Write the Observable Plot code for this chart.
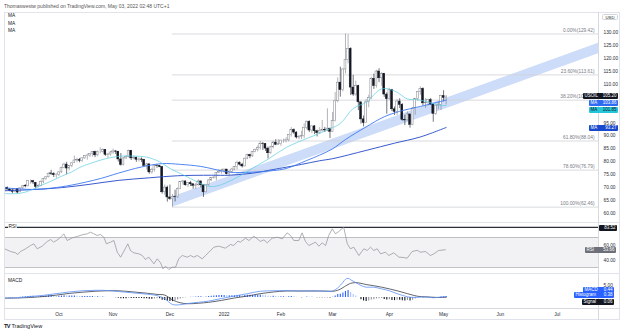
<!DOCTYPE html>
<html><head><meta charset="utf-8">
<script src="https://cdn.jsdelivr.net/npm/d3@7"></script>
<script src="https://cdn.jsdelivr.net/npm/@observablehq/plot@0.6"></script>
<style>
html,body{margin:0;padding:0;background:#fff;}
#root{position:relative;width:624px;height:334px;overflow:hidden;font-family:"Liberation Sans",Arial,sans-serif;color:#131722;}
.pane{position:absolute;left:0;}
.pane svg{overflow:visible;display:block;}
.t{position:absolute;white-space:nowrap;line-height:1;}
.box{position:absolute;height:6px;font-size:4.5px;line-height:6px;display:flex;justify-content:space-between;padding:0 1.6px;box-sizing:border-box;border-radius:1px;white-space:nowrap;}
.hl{position:absolute;height:1px;background:#e0e3eb;}
.vl{position:absolute;width:1px;background:#e0e3eb;}
</style></head>
<body><div id="root"></div>
<script>
// ---------------- DATA ----------------
// daily candles, bar index 1 = 2 Sep 2021 ... 172 = 2 May 2022
const open = [68.6,69.9,69.3,68.9,68.3,69.4,68.2,69.8,70.6,70.5,72.6,72.5,71.8,70.4,70.7,72.3,73.3,74.0,75.5,75.3,74.8,
75.0,75.9,77.6,78.9,77.4,78.4,79.5,80.5,80.6,80.4,81.3,82.2,82.4,83.0,83.8,82.5,83.8,83.8,84.6,82.7,82.8,
83.6,84.0,83.9,80.9,78.8,81.3,81.9,84.2,81.3,81.6,80.8,80.9,80.8,78.4,79.0,75.9,76.8,78.5,78.4,78.0,68.2,70.0,
66.2,65.6,66.5,66.3,69.5,72.1,72.4,70.9,71.7,71.3,70.7,70.9,72.4,70.9,68.2,71.1,72.8,73.8,73.9,75.6,76.0,76.6,77.0,
75.2,76.1,77.0,77.9,79.5,78.9,78.2,81.2,82.6,82.1,83.8,84.6,85.4,87.0,86.9,85.1,83.3,85.6,87.4,86.6,86.8,
88.2,88.2,88.3,90.3,92.3,91.3,89.4,89.7,89.9,93.1,95.5,92.1,93.7,91.8,91.1,92.0,92.4,92.1,92.8,91.6,
95.7,103.4,110.6,107.7,115.7,119.4,123.7,108.7,106.0,109.3,103.0,96.4,95.0,103.0,104.7,112.1,109.3,114.9,112.3,113.9,106.0,104.2,107.8,
100.3,99.3,103.3,102.0,96.2,96.0,98.3,94.3,100.6,104.3,107.0,108.2,102.6,102.8,103.8,102.1,98.5,101.7,102.0,105.4,
104.7];
const high = [70.1,70.3,69.5,69.4,69.6,69.6,70.0,70.8,71.2,72.8,73.0,72.8,72.0,71.3,72.6,73.6,74.2,75.6,76.7,75.8,75.4,
76.0,77.9,79.5,79.8,78.5,79.6,82.2,81.4,81.3,81.6,82.3,83.0,83.1,83.9,84.1,84.2,85.4,85.0,84.7,83.2,84.0,
84.9,84.4,84.0,83.2,81.6,82.4,84.5,84.4,82.2,81.8,81.5,81.5,80.9,79.4,79.2,77.5,78.9,78.9,78.6,78.2,71.0,70.6,
71.0,67.4,69.0,69.9,72.4,72.8,72.6,72.0,72.4,71.5,71.6,73.1,72.5,71.0,71.3,72.9,73.9,74.2,75.8,76.9,77.1,77.1,77.0,
76.5,77.5,78.2,80.2,80.0,79.4,81.4,82.9,82.9,84.0,84.9,86.1,87.9,87.4,86.9,85.7,86.0,88.0,88.6,88.6,88.4,
88.8,89.3,90.4,93.2,92.7,91.6,90.2,91.8,94.7,95.8,95.8,93.7,94.0,92.2,93.2,96.0,93.3,100.5,93.0,99.1,
106.8,112.5,116.6,116.0,129.4,129.1,124.1,113.4,111.2,109.6,103.0,97.7,104.1,105.7,112.7,113.9,115.4,116.0,114.5,114.2,106.7,108.4,108.0,
101.2,104.1,104.4,102.5,98.0,99.3,98.4,101.0,104.3,107.2,109.0,108.6,104.5,104.2,104.5,102.1,101.9,103.2,105.7,107.5,
105.6];
const low = [68.3,68.9,68.4,67.6,68.0,67.6,68.0,69.3,69.9,70.3,71.3,71.2,69.5,69.9,70.4,71.5,72.8,73.8,74.7,73.9,73.6,
74.3,75.5,77.3,75.0,76.5,77.7,79.3,79.6,79.6,79.8,81.0,80.6,81.7,81.8,81.6,82.0,83.1,83.4,82.1,81.3,82.2,
82.9,82.8,79.9,78.3,78.4,80.9,81.5,80.5,80.8,79.8,79.9,79.7,78.1,76.8,75.2,75.2,76.0,77.5,77.7,67.5,67.0,64.4,
65.1,62.4,64.5,65.8,69.2,71.0,70.6,70.0,70.4,69.4,69.3,70.5,69.9,66.2,68.0,70.5,72.3,73.3,72.6,75.4,75.2,75.5,74.9,
74.3,75.4,76.5,76.8,78.4,77.6,78.0,80.8,81.2,81.7,83.5,83.8,84.5,84.4,84.0,81.1,82.9,85.0,86.2,86.4,86.0,
87.2,87.3,87.7,89.6,90.5,88.8,88.5,88.6,88.9,92.4,91.3,90.9,90.5,89.6,90.6,91.5,91.3,91.6,89.0,91.5,
95.4,102.8,105.0,107.0,114.0,117.9,105.6,105.3,105.4,99.8,94.6,93.5,95.0,100.9,104.0,108.0,108.5,110.6,109.2,104.9,98.4,103.8,99.4,
97.9,97.9,100.6,95.7,94.0,95.8,93.0,94.0,98.0,103.4,105.7,101.6,100.6,101.5,101.9,95.3,97.9,100.1,99.8,103.2,
102.0];
const close = [70.0,69.3,68.8,68.4,69.3,68.1,69.7,70.5,70.5,72.6,72.6,72.0,70.3,70.6,72.2,73.3,74.0,75.4,75.3,74.8,75.0,
75.9,77.6,78.9,77.4,78.3,79.4,80.5,80.6,80.4,81.3,82.2,82.4,83.0,83.8,82.5,83.8,83.8,84.6,82.7,82.8,83.6,
84.0,83.9,80.9,78.8,81.3,81.9,84.2,81.3,81.6,80.8,80.9,80.8,78.4,79.0,75.9,76.8,78.5,78.4,78.0,68.2,70.0,66.2,
65.6,66.5,66.3,69.5,72.1,72.4,70.9,71.7,71.3,70.7,70.9,72.4,70.9,68.2,71.1,72.8,73.8,73.9,75.6,76.0,76.6,77.0,75.2,
76.1,77.0,77.9,79.5,78.9,78.2,81.2,82.6,82.1,83.8,84.6,85.4,87.0,86.9,85.1,83.3,85.6,87.4,86.6,86.8,88.2,
88.2,88.3,90.3,92.3,91.3,89.4,89.7,89.9,93.1,95.5,92.1,93.7,91.8,91.1,92.0,92.4,92.1,92.8,91.6,95.7,
103.4,110.6,107.7,115.7,119.4,123.7,108.7,106.0,109.3,103.0,96.4,95.0,103.0,104.7,112.1,109.3,114.9,112.3,113.9,106.0,104.2,107.8,100.3,
99.3,103.3,102.0,96.2,96.0,98.3,94.3,100.6,104.3,107.0,108.2,102.6,102.8,103.8,102.1,98.5,101.7,102.0,105.4,104.7,
105.2];

// moving averages (bar index, value)
const ma20X = [1,7,11,15,19,23,27,30,34,38,42,46,51,56,61,65,69,73,77,80,83,87,92,97,103,110,118,123,127,131,136,141,147,152,157,161,166,170,172];
const ma20V = [67.7,67.8,69.0,70.8,72.5,74.4,76.1,77.8,79.3,80.6,81.6,82.2,82.2,81.8,80.0,77.4,75.5,73.5,71.6,70.5,70.6,72.0,74.5,77.5,81.0,85.5,89.0,91.0,92.8,94.8,100.6,103.0,108.2,107.4,104.3,104.0,102.9,101.7,101.85];
const ma50X = [1,7,12,19,27,38,45,54,62,69,77,88,97,105,110,118,123,128,133,141,148,154,162,172];
const ma50V = [69.9,69.5,69.3,69.8,71.0,73.5,75.6,78.0,79.3,79.0,78.2,76.0,76.0,76.6,77.4,80.5,82.6,85.0,88.6,93.5,97.4,99.5,101.4,103.86];
const ma100X = [1,11,23,34,45,57,68,81,88,97,105,110,116,123,128,141,152,162,172];
const ma100V = [68.8,69.2,70.0,71.3,72.8,73.8,74.6,74.8,74.8,75.6,77.0,77.9,79.0,80.4,81.2,84.4,87.2,89.6,93.27];

// parallel channel from the December low
const channelX = [66, 231];
const channelLo = [62.4, 121.8];
const channelHi = [66.4, 125.8];

// Fibonacci retracement 62.46 -> 129.42
const fibStart = 66;
const fibLevels = [129.42, 113.61, 103.84, 88.04, 76.79, 62.46];
const fibPct = ["0.00%", "23.60%", "38.20%", "61.80%", "78.60%", "100.00%"];

// RSI
const rsiX = [1,3.3,5.2,6.1,7.1,9.1,11,12.3,13.6,15.5,17.5,18.8,20,22,23.3,23.9,25.2,27.2,29.1,31,33,34.2,35.5,36.8,38.1,39.4,40.4,42,43.3,44.6,45.9,47.1,48.7,49.7,51,53,54.3,55.5,56.8,58.8,60.1,61.4,62.3,63.3,64.6,65.9,67.2,68.4,69.8,71.7,73,74.2,75.6,77.5,78.8,80.1,82,83.9,85.2,86.5,88.5,89.7,91.3,92.3,94.3,95.6,97.5,98.8,100.1,101.4,102.7,104.6,106.6,108.5,110.4,111.7,113,114.9,116.2,117.5,118.8,120.1,121.4,122.7,124,125.3,126.5,127.9,129.1,130.4,132.3,133.7,134.9,136.2,138.2,140.1,141.4,142.7,144,145.3,146.6,148.5,149.8,151.7,153.7,155.6,156.9,158.8,160.8,162,164,165.9,167.2,169.1,171.7];
const rsiV = [54.9,51.3,49.6,47.3,51.3,54.9,59.3,61.6,54.9,58.4,64.7,67.3,63.8,68.2,72.7,74.9,66,69.6,71.3,73.6,74.9,77.1,74.9,72.7,74,70.4,61.6,63.8,66,50.4,43.8,51.3,61.6,52.7,49.6,48.2,46,40.7,43.8,34.9,41.6,36.2,28.2,31.8,27.3,30.4,30.4,41.6,46,43.8,46,43.8,46,41.6,46,50.4,57.1,58.4,57.1,55.8,60.7,59.3,65.1,63.8,69.1,66,71.8,68.2,64.7,66.9,62.9,69.1,70.4,68.2,76.2,72.7,66,66,76.2,64.7,59.3,61.6,63.8,58.4,62.9,59.3,72.7,81.6,74.9,78,83.8,61.6,54.9,57.1,46,54.9,52.7,57.1,52.7,54.9,48.2,50.4,46,49.6,43.8,43.3,42.4,51.3,52.9,50.4,51.3,46,48.2,52.7,53.66];
const rsiBand = [30, 70];
const rsiMax = 83.52;
const rsiTicks = [40, 60];

// MACD
const macdX = [1,6,11,16,21,26,31,36,41,45,50,55,60,63,66,69,72,76,80,85,90,95,100,105,110,115,120,125,128,130,132,133,134,135,137,139,141,144,147,150,153,156,158,161,164,167,170,172];
const macdV = [-0.2,-0.1,0.4,0.9,1.6,2.3,2.8,3.0,2.9,2.5,2.0,1.5,0.8,-0.5,-2.9,-3.0,-2.5,-2.0,-1.5,-0.4,0.6,1.6,2.6,2.8,2.9,2.7,2.8,2.6,2.7,4.0,6.3,7.6,8.0,7.4,6.2,5.0,4.3,4.3,3.6,2.8,1.6,0.6,0.1,0.1,0.2,-0.1,0.2,0.44];
const signalV = [-0.3,-0.2,0.0,0.4,1.0,1.7,2.2,2.6,2.8,2.8,2.4,1.9,1.3,1.0,-1.0,-2.2,-2.6,-2.4,-2.0,-1.2,-0.2,0.6,1.6,2.3,2.7,2.7,2.7,2.7,2.6,3.0,4.1,4.8,5.4,5.9,6.2,5.9,5.4,4.9,4.3,3.6,2.8,1.9,1.3,0.5,0.3,0.1,0.0,0.06];
const histV = [0.1,0.0,-0.1,-0.1,0.0,0.0,0.1,0.2,0.3,0.4,0.5,0.5,0.4,0.3,0.4,0.5,0.6,0.7,0.7,0.6,0.5,
0.5,0.6,0.7,0.6,0.6,0.6,0.6,0.5,0.4,0.4,0.4,0.4,0.4,0.4,0.3,0.3,0.2,0.2,0.1,0.0,0.0,
0.0,-0.1,-0.3,-0.5,-0.5,-0.5,-0.3,-0.4,-0.4,-0.4,-0.4,-0.4,-0.5,-0.5,-0.7,-0.7,-0.6,-0.5,-0.5,-1.1,-1.3,-1.6,
-1.7,-1.7,-1.4,-1.0,-0.6,-0.3,-0.1,0.0,0.1,0.1,0.2,0.3,0.3,0.1,0.2,0.4,0.5,0.6,0.7,0.8,0.8,0.8,0.7,
0.7,0.7,0.7,0.8,0.8,0.7,0.8,0.9,0.9,0.9,0.9,0.9,1.0,0.9,0.7,0.5,0.4,0.5,0.4,0.3,0.3,
0.3,0.2,0.3,0.4,0.3,0.1,0.0,-0.1,0.0,0.2,0.1,0.1,0.0,-0.1,-0.1,-0.1,-0.1,-0.1,-0.2,0.1,
0.6,1.2,1.4,1.9,2.5,2.9,2.1,1.2,0.6,0.0,-0.9,-1.5,-1.7,-1.5,-1.0,-0.9,-0.6,-0.5,-0.4,-0.8,-1.0,-0.9,-1.2,
-1.3,-1.1,-1.1,-1.4,-1.5,-1.3,-1.5,-1.1,-0.6,-0.2,0.1,-0.1,-0.1,0.0,0.0,-0.3,-0.2,-0.1,0.2,0.3,
0.38];
const macdTicks = [5];

// axes
const priceTicks = [60,65,70,75,80,85,90,95,100,105,110,115,120,125,130];
const monthTickIdx = [22,43,65,86,108,128,150,171,193,215];
const monthTickLabels = ["Oct","Nov","Dec","2022","Feb","Mar","Apr","May","Jun","Jul"];

// last values shown on the price scale
const priceLabelNames = ["USOIL", "MA", "MA", "MA"];
const priceLabelValues = [105.20, 103.86, 101.85, 93.27];

// ---------------- BUILD ----------------
const root = document.getElementById("root");
const FONT = "Liberation Sans, Arial, sans-serif";
const xDomain = [0.93, 231];
const baseStyle = {background: "transparent", fontSize: "4.8px", fontFamily: FONT, color: "#2a2e39", overflow: "visible"};
const PRICE_TOP = 12, RSI_TOP = 222, MACD_TOP = 273;
const yPriceDomain = [60, 130], yPriceRange = [201, 20];

const candles = close.map((c, k) => ({i: k + 1, o: open[k], h: high[k], l: low[k], c, up: c >= open[k]}));
const pts = (xs, vs) => xs.map((x, k) => ({i: x, v: vs[k]})).filter(d => d.v != null);
const channel = channelX.map((x, k) => ({i: x, lo: channelLo[k], hi: channelHi[k]}));
const fib = fibLevels.map((v, k) => ({v, label: `${fibPct[k]}(${v.toFixed(2)})`}));
const UP = "#80838c", DN = "#131722";

// price-scale label placement (stacked like TradingView), then hide ticks under them
const yPrice = d3.scaleLinear(yPriceDomain, yPriceRange);
const pl = priceLabelValues.map((v, k) => ({
  name: priceLabelNames[k], v, y: PRICE_TOP + yPrice(v),
  left: k === 0 ? 583 : 589,
  bg: ["#131722", "#2f6bf2", "#26c6da", "#1848cc"][k],
  fg: k === 2 ? "#131722" : "#ffffff"
})).sort((a, b) => a.y - b.y);
for (let k = 1; k < pl.length; k++) pl[k].y = Math.max(pl[k].y, pl[k - 1].y + 7);
pl.forEach(d => { if (d.v === 93.27) d.y += 0.8; });
const visiblePriceTicks = priceTicks.filter(t => pl.every(d => Math.abs(PRICE_TOP + yPrice(t) - d.y) > 4));

function addPane(top, plot) {
  const d = document.createElement("div");
  d.className = "pane"; d.style.top = top + "px";
  d.appendChild(plot); root.appendChild(d);
  return plot;
}

const pricePlot = addPane(PRICE_TOP, Plot.plot({
  width: 624, height: 210, marginLeft: 4, marginRight: 26, marginTop: 0, marginBottom: 0,
  style: baseStyle,
  x: {domain: xDomain, axis: null},
  y: {domain: yPriceDomain, range: yPriceRange, axis: "right", ticks: visiblePriceTicks, tickFormat: d => d.toFixed(2), tickSize: 0, tickPadding: 5, label: null},
  marks: [
    Plot.areaY(channel, {x: "i", y1: "lo", y2: "hi", fill: "#cddcf8"}),
    Plot.ruleY(fib, {y: "v", x1: fibStart, x2: xDomain[1], stroke: "#cfd1d6", strokeWidth: 0.8}),
    Plot.text(fib, {y: "v", text: "label", frameAnchor: "right", dx: -4, dy: -3.2, textAnchor: "end", fill: "#787b86", fontSize: 4.8}),
    Plot.ruleX(candles, {x: "i", y1: "l", y2: "h", stroke: d => d.up ? UP : DN, strokeWidth: 0.6, clip: true}),
    Plot.rect(candles, {x1: d => d.i - 0.36, x2: d => d.i + 0.36, y1: d => Math.min(d.o, d.c), y2: d => Math.max(d.o, d.c),
      fill: d => d.up ? "#ffffff" : DN, stroke: d => d.up ? UP : DN, strokeWidth: 0.5, clip: true}),
    Plot.line(pts(ma100X, ma100V), {x: "i", y: "v", stroke: "#2347c7", strokeWidth: 0.9, curve: "catmull-rom", clip: true}),
    Plot.line(pts(ma50X, ma50V), {x: "i", y: "v", stroke: "#3d78f2", strokeWidth: 0.9, curve: "catmull-rom", clip: true}),
    Plot.line(pts(ma20X, ma20V), {x: "i", y: "v", stroke: "#5ccde2", strokeWidth: 0.7, curve: "catmull-rom", clip: true})
  ]
}));

const rsiPlot = addPane(RSI_TOP, Plot.plot({
  width: 624, height: 51, marginLeft: 4, marginRight: 26, marginTop: 0, marginBottom: 0,
  style: baseStyle,
  x: {domain: xDomain, axis: null},
  y: {domain: [30, 70], range: [45, 15], axis: "right", ticks: rsiTicks, tickFormat: d => d.toFixed(2), tickSize: 0, tickPadding: 5, label: null},
  marks: [
    Plot.rect([rsiBand], {x1: xDomain[0], x2: xDomain[1], y1: d => d[0], y2: d => d[1], fill: "#f2f2f4"}),
    Plot.ruleY(rsiBand, {stroke: "#aeb1b8", strokeWidth: 0.8}),
    Plot.ruleY([rsiMax], {stroke: "#2a2e39", strokeWidth: 1.3}),
    Plot.line(pts(rsiX, rsiV), {x: "i", y: "v", stroke: "#8c8f98", strokeWidth: 0.7, clip: true})
  ]
}));

const histRows = histV.map((v, k) => {
  const prev = k > 0 ? histV[k - 1] : v;
  const color = v >= 0 ? (v >= prev ? "#2962ff" : "#a7c1fb") : (v <= prev ? "#131722" : "#8f929a");
  return {i: k + 1, v, color};
});
const macdRows = macdX.map((x, k) => ({i: x, macd: macdV[k], signal: signalV[k]}));
const monthMap = new Map(monthTickIdx.map((d, k) => [d, monthTickLabels[k]]));

const macdPlot = addPane(MACD_TOP, Plot.plot({
  width: 624, height: 47, marginLeft: 4, marginRight: 26, marginTop: 0, marginBottom: 12,
  style: baseStyle,
  x: {domain: xDomain, ticks: monthTickIdx, tickFormat: d => monthMap.get(d), tickSize: 0, tickPadding: 4, label: null},
  y: {domain: [-5, 5], range: [36, 12], axis: "right", ticks: macdTicks, tickFormat: d => d.toFixed(2), tickSize: 0, tickPadding: 5, label: null},
  color: {type: "identity"},
  marks: [
    Plot.ruleX(histRows, {x: "i", y1: 0, y2: "v", stroke: "color", strokeWidth: 1.1}),
    Plot.line(macdRows, {x: "i", y: "signal", stroke: "#3b3e47", strokeWidth: 0.8, curve: "catmull-rom"}),
    Plot.line(macdRows, {x: "i", y: "macd", stroke: "#5b8ff7", strokeWidth: 0.8, curve: "catmull-rom"})
  ]
}));

// ---------------- FRAME / DECOR ----------------
function el(cls, css, html) {
  const d = document.createElement("div");
  d.className = cls; Object.assign(d.style, css);
  if (html != null) d.innerHTML = html;
  root.appendChild(d); return d;
}
el("hl", {left: "4px", top: "12px", width: "616px"});
el("hl", {left: "4px", top: "319px", width: "616px"});
el("vl", {left: "4px", top: "12px", height: "308px"});
el("vl", {left: "619px", top: "12px", height: "308px"});
el("vl", {left: "598px", top: "12px", height: "308px", background: "#d6d9e0"});
el("hl", {left: "4px", top: "222px", width: "616px"});
el("hl", {left: "4px", top: "273px", width: "616px"});
el("hl", {left: "4px", top: "308px", width: "616px", background: "#d6d9e0"});

el("t", {left: "4px", top: "4.2px", fontSize: "5px", color: "#555"}, "Thomaswestw published on TradingView.com, May 03, 2022 02:48 UTC+1");
["MA", "MA", "MA"].forEach((s, k) => el("t", {left: "8px", top: (14.3 + k * 7.3) + "px", fontSize: "4.8px", color: "#131722"}, s));
el("t", {left: "8px", top: "224.6px", fontSize: "4.8px", color: "#131722", background: "#fff", padding: "0 0.5px"}, "RSI");
el("t", {left: "8px", top: "278.6px", fontSize: "4.8px", color: "#131722"}, "MACD");
el("t", {left: "602px", top: "14px", width: "16px", height: "6px", fontSize: "4.3px", lineHeight: "6px", textAlign: "center", border: "0.6px solid #d1d4dc", borderRadius: "1.5px", boxSizing: "border-box", background: "#fff"}, "USD");
el("t", {left: "4px", top: "323.5px", fontSize: "5.6px", color: "#131722"}, "<b style='letter-spacing:-0.6px'>TV</b> TradingView");

function box(left, right, cy, bg, fg, name, val) {
  el("box", {left: left + "px", width: (right - left) + "px", top: (cy - 3) + "px", background: bg, color: fg},
    `<span>${name}</span><span>${val}</span>`);
}

pl.forEach(d => box(d.left, 618, d.y, d.bg, d.fg, d.name, d.v.toFixed(2)));

// RSI labels
const yr = rsiPlot.scale("y");
box(598.5, 617, RSI_TOP + yr.apply(rsiMax) + 1, "#131722", "#fff", "", rsiMax.toFixed(2));
box(585, 616, RSI_TOP + yr.apply(rsiV[rsiV.length - 1]) + 0.8, "#6e7079", "#fff", "RSI", rsiV[rsiV.length - 1].toFixed(2));

// MACD labels (stacked)
const ym = macdPlot.scale("y");
const mBase = MACD_TOP + ym.apply(macdV[macdV.length - 1]);
box(583, 614, mBase - 6, "#2962ff", "#fff", "MACD", macdV[macdV.length - 1].toFixed(2));
box(574, 614, mBase - 0.5, "#2962ff", "#fff", "Histogram", histV[histV.length - 1].toFixed(2));
box(582, 614, mBase + 6.5, "#131722", "#fff", "Signal", signalV[signalV.length - 1].toFixed(2));
</script></body></html>
